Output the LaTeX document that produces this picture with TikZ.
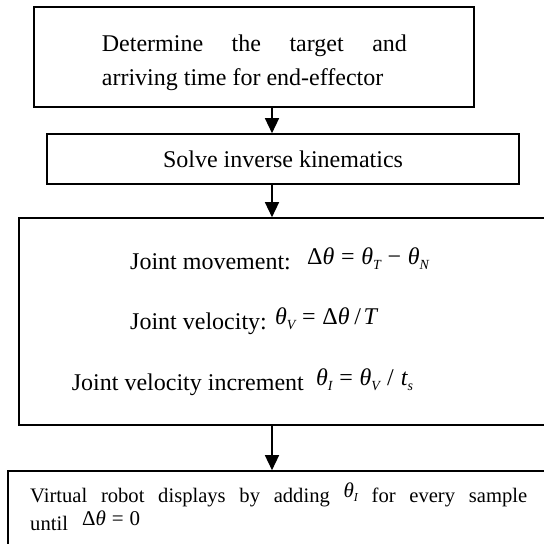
\documentclass[tikz,border=0pt]{standalone}
\usepackage{graphicx}
\usepackage{fontspec}
\setmainfont{Liberation Serif}
\usetikzlibrary{arrows.meta}
\newcommand{\tht}{{\itshape θ}}
\newcommand{\lsub}[1]{\raisebox{-0.22em}{\scalebox{0.58}{\itshape #1}}}
\newcommand{\eqs}{\hspace{0.28em}=\hspace{0.28em}}
\newcommand{\mns}{\hspace{0.28em}−\hspace{0.28em}}
\begin{document}
\begin{tikzpicture}[x=1pt,y=-1pt,
  boxst/.style={draw,line width=1.6pt,inner sep=0pt},
  txt/.style={inner sep=0pt,font=\fontsize{24}{34}\selectfont},
  stxt/.style={inner sep=0pt,font=\fontsize{20.6}{28}\selectfont},
  frm/.style={inner sep=0pt,font=\fontsize{24}{28}\selectfont},
  sfrm/.style={inner sep=0pt,font=\fontsize{21}{26}\selectfont},
  arr/.style={line width=1.4pt,-{Triangle[width=14pt,length=15pt]}}]
\useasboundingbox (0,0) rectangle (544,544);
\clip (0,0) rectangle (544,544);
% boxes
\node[boxst,minimum width=440pt,minimum height=100pt] (b1) at (254,57) {};
\node[boxst,minimum width=472pt,minimum height=50pt] (b2) at (283,159) {};
\node[boxst,minimum width=541pt,minimum height=207pt] (b3) at (289.5,321.5) {};
\node[boxst,minimum width=552pt,minimum height=89pt] (b4) at (284,515.5) {};
% arrows
\coordinate (ax) at (272,0);
\draw[arr] (b1.south -| ax) -- (b2.north -| ax);
\draw[arr] (b2.south -| ax) -- (b3.north -| ax);
\draw[arr] (b3.south -| ax) -- (b4.north -| ax);
% box 1 text
\node[txt,anchor=base west] (t1a) at (101.7,51) {\makebox[305pt][s]{Determine the target and}};
\node[txt,anchor=base west] (t1b) at (101.7,85) {arriving time for end-effector};
% box 2 text
\node[txt,anchor=base] (t2) at (283,167) {Solve inverse kinematics};
% box 3 text
\node[txt,anchor=base west] (t3a) at (130,269) {Joint movement:};
\node[frm,anchor=base west] (f3a) at (307,264) {Δ\tht\eqs\tht\lsub{T}\mns\tht\lsub{N}};
\node[txt,anchor=base west] (t3b) at (130,329) {Joint velocity:};
\node[frm,anchor=base west] (f3b) at (275,324) {\tht\lsub{V}\eqs Δ\tht\hspace{0.2em}/\hspace{0.1em}{\itshape T}};
\node[txt,anchor=base west] (t3c) at (71.7,390) {Joint velocity increment};
\node[frm,anchor=base west] (f3c) at (316,385) {\tht\lsub{I}\eqs\tht\lsub{V}\hspace{0.3em}/\hspace{0.3em}{\itshape t}\lsub{s}};
% box 4 text
\node[stxt,anchor=base west] (t4a) at (30,502) {\makebox[497pt][s]{Virtual robot displays by adding \raisebox{5pt}{\fontsize{21}{21}\selectfont\tht\lsub{I}} for every sample}};
\node[stxt,anchor=base west] (t4b) at (30,530) {until};
\node[sfrm,anchor=base west] (f4) at (82,525) {Δ\tht\eqs 0};
\end{tikzpicture}
\end{document}
